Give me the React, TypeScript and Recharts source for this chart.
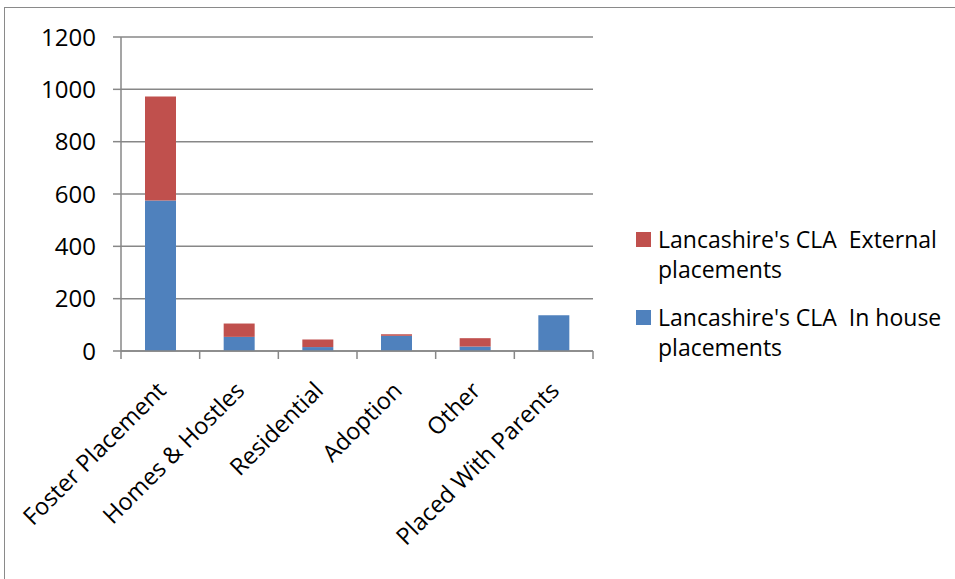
import { BarChart, Bar, XAxis, YAxis, CartesianGrid } from "recharts";

const categories = [
  "Foster Placement",
  "Homes & Hostles",
  "Residential",
  "Adoption",
  "Other",
  "Placed With Parents",
];
const inHouse = [575, 54, 15, 58, 17, 137];
const external = [398, 51, 29, 6, 32, 0];
const yTicks = [0, 200, 400, 600, 800, 1000, 1200];

const seriesNames = {
  inHouse: "Lancashire's CLA  In house placements",
  external: "Lancashire's CLA  External placements",
};
const BLUE = "#4F81BD";
const RED = "#C0504D";
const GRID = "#878787";
const FONT = "'Open Sans', sans-serif";

const data = categories.map((name, i) => ({
  name,
  inHouse: inHouse[i],
  external: external[i],
}));

// category label rotated like excel, plus tick marks between categories
function CategoryTick(props: any) {
  const { x, y, payload, index, width, visibleTicksCount } = props;
  const band = width / visibleTicksCount;
  const axisY = y - 2;
  return (
    <g>
      <line x1={x - band / 2} y1={axisY} x2={x - band / 2} y2={axisY + 8} stroke={GRID} strokeWidth={1.5} />
      {index === visibleTicksCount - 1 && (
        <line x1={x + band / 2} y1={axisY} x2={x + band / 2} y2={axisY + 8} stroke={GRID} strokeWidth={1.5} />
      )}
      <text
        transform={`translate(${x + 7},${axisY + 41}) rotate(-45)`}
        textAnchor="end"
        fontSize={23.5}
        fontFamily={FONT}
        fill="#000"
      >
        {payload.value}
      </text>
    </g>
  );
}

const legendItems = [
  { name: seriesNames.external, color: RED },
  { name: seriesNames.inHouse, color: BLUE },
];

export default function App() {
  return (
    <div
      style={{
        position: "absolute",
        left: 0,
        top: 0,
        width: 955,
        height: 579,
        overflow: "hidden",
        background: "#fff",
        fontFamily: FONT,
      }}
    >
      <div
        style={{
          position: "absolute",
          left: 4,
          top: 7,
          width: 980,
          height: 600,
          border: "1.5px solid #8a8a8a",
        }}
      />
      <div style={{ position: "absolute", left: 0, top: 0 }}>
        <BarChart
          width={955}
          height={579}
          data={data}
          margin={{ top: 37, right: 362, left: 21, bottom: 0 }}
          barSize={31}
        >
          <CartesianGrid vertical={false} stroke={GRID} strokeWidth={1.5} />
          <XAxis
            dataKey="name"
            interval={0}
            height={228}
            axisLine={{ stroke: GRID, strokeWidth: 1.5 }}
            tickLine={false}
            tickSize={0}
            tick={<CategoryTick />}
          />
          <YAxis
            width={100}
            domain={[0, 1200]}
            ticks={yTicks}
            interval={0}
            axisLine={{ stroke: GRID, strokeWidth: 1.5 }}
            tickLine={{ stroke: GRID, strokeWidth: 1.5 }}
            tickSize={8}
            tickMargin={17}
            tick={{ fill: "#000", fontSize: 24, fontFamily: FONT }}
          />
          <Bar dataKey="inHouse" name={seriesNames.inHouse} stackId="a" fill={BLUE} isAnimationActive={false} />
          <Bar dataKey="external" name={seriesNames.external} stackId="a" fill={RED} isAnimationActive={false} />
        </BarChart>
      </div>
      <div style={{ position: "absolute", left: 636, top: 224, width: 315 }}>
        {legendItems.map((item) => (
          <div key={item.name} style={{ position: "relative", paddingLeft: 22, marginBottom: 18 }}>
            <div
              style={{
                position: "absolute",
                left: 0,
                top: 8,
                width: 15,
                height: 15,
                background: item.color,
              }}
            />
            <div
              style={{
                fontSize: 23,
                lineHeight: "30px",
                whiteSpace: "pre-wrap",
                width: 292,
                color: "#000",
              }}
            >
              {item.name}
            </div>
          </div>
        ))}
      </div>
    </div>
  );
}
